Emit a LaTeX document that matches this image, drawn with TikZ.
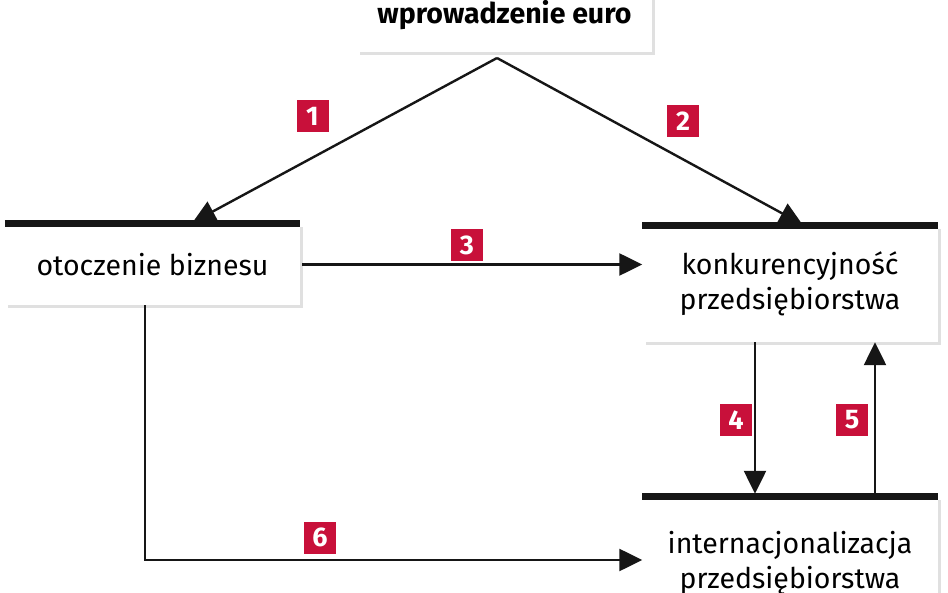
\documentclass[tikz,border=0pt]{standalone}
\usepackage{fontspec}
\setmainfont{Fira Sans}
\usetikzlibrary{arrows.meta,positioning,calc,shadows}
\definecolor{tagred}{RGB}{200,16,58}
\definecolor{barblack}{RGB}{22,22,22}

\begin{document}
\begin{tikzpicture}[x=1pt,y=-1pt,
    box/.style={fill=white, minimum width=295pt, align=center, inner sep=0pt,
        font=\fontsize{28.5}{35}\selectfont,
        drop shadow={shadow xshift=3pt, shadow yshift=-3pt, opacity=0.12, fill=black}},
    topbar/.style={draw=barblack, line width=7pt},
    numtag/.style={fill=tagred, text=white, minimum size=32pt, inner sep=0pt,
        font=\fontsize{27}{27}\selectfont\bfseries},
    link/.style={draw=barblack, line width=2.4pt, -{Triangle[length=23pt,width=22pt]}}
]
    \useasboundingbox (0,0) rectangle (948,593);

    % boxes
    \node[box, minimum height=74pt, font=\fontsize{28.5}{35}\selectfont\bfseries]
        (euro) at (504.5,15) {wprowadzenie euro};
    \node[box, minimum height=81pt] (biz) at (152.5,264.5) {otoczenie biznesu};
    \node[box, minimum height=116pt] (konk) at (790,284)
        {konkurencyjność\\przedsiębiorstwa};
    \node[box, minimum height=132pt] (intl) at (790,563)
        {internacjonalizacja\\przedsiębiorstwa};

    \draw[topbar] (biz.north west) -- (biz.north east);
    \draw[topbar] (konk.north west) -- (konk.north east);
    \draw[topbar] (intl.north west) -- (intl.north east);

    % connectors
    \coordinate (apex) at (497,58);
    \draw[link, shorten >=3pt] (apex) -- ([xshift=37.5pt]biz.north);
    \draw[link, shorten >=3pt] (apex) -- ([xshift=15pt]konk.north);
    \draw[link] ([xshift=2pt]biz.east) -- (biz.east -| konk.west);
    \draw[link, shorten >=3pt] ([xshift=-35pt]konk.south) -- ([xshift=-35pt]intl.north);
    \draw[link] ([xshift=85pt]intl.north) -- ([xshift=85pt]konk.south);
    \draw[link] ([xshift=-7.5pt]biz.south) |- ([yshift=3pt]intl.west);

    % numbers
    \node[numtag] (n1) at (312.5,116.5) {1};
    \node[numtag] (n2) at (683,121.5) {2};
    \node[numtag] (n3) at (467,245) {3};
    \node[numtag] (n4) at (736,420) {4};
    \node[numtag] (n5) at (852,420) {5};
    \node[numtag] (n6) at (320,537.5) {6};
\end{tikzpicture}
\end{document}
